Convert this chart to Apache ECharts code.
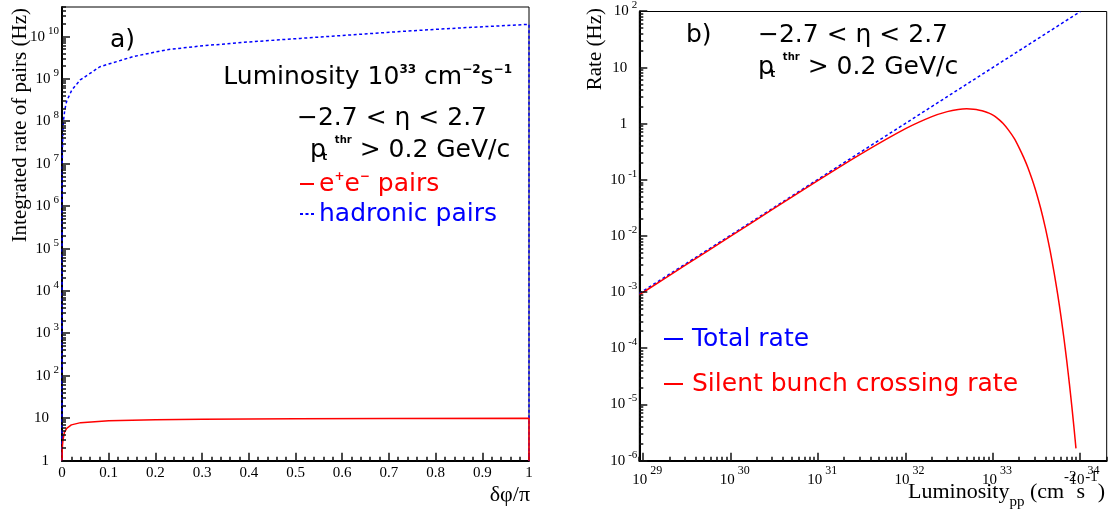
<!DOCTYPE html>
<html>
<head>
<meta charset="utf-8">
<script src="https://cdn.jsdelivr.net/npm/echarts@6.0.0/dist/echarts.min.js"></script>
<style>
html,body{margin:0;padding:0;background:#fff;}
#chart{width:1109px;height:511px;}
</style>
</head>
<body>
<div id="chart"></div>
<script>
// ---------- Panel a) : integrated rate vs delta-phi/pi ----------
const dphiHadronic = [0, 0.0002, 0.0008, 0.002, 0.003, 0.006, 0.010, 0.021, 0.039, 0.081, 0.153, 0.224, 0.295, 0.4, 0.51, 0.62, 0.724, 0.85, 1.0, 1.0];
const rateHadronic = [1, 3e6, 2e7, 6e7, 1e8, 1.9e8, 3.0e8, 5.5e8, 9.5e8, 1.95e9, 3.4e9, 4.9e9, 6.0e9, 7.5e9, 9.1e9, 1.1e10, 1.32e10, 1.6e10, 1.95e10, 1];
const dphiEE = [0, 0.0005, 0.001, 0.002, 0.005, 0.01, 0.02, 0.04, 0.1, 0.2, 0.3, 0.5, 0.7, 1.0, 1.0];
const rateEE = [1, 1.8, 2.3, 3.0, 4.6, 5.8, 7.0, 7.9, 8.7, 9.2, 9.5, 9.75, 9.9, 10, 1];

// ---------- Panel b) : rate vs luminosity ----------
const lumiTotal = [9e28, 1e29, 1e30, 1e31, 1e32, 1e33, 1e34];
const rateTotal = [9.6e-4, 1.06e-3, 1.04e-2, 0.103, 1.02, 10.1, 100];
const lumiSilent = [9e28, 1e29, 3e29, 1e30, 3e30, 1e31, 3e31, 1e32, 2e32, 3e32, 4e32, 5e32, 6e32, 7e32, 8e32, 9e32, 1e33, 1.1e33, 1.2e33, 1.3e33, 1.5e33, 1.75e33, 2e33, 2.25e33, 2.5e33, 3e33, 3.5e33, 4e33, 4.5e33, 5e33, 5.5e33, 6e33, 6.5e33, 7e33, 7.5e33, 8e33, 8.5e33, 8.9e33];
const rateSilent = [9.0e-4, 1.0e-3, 3.0e-3, 9.98e-3, 0.0298, 0.098, 0.2825, 0.819, 1.341, 1.646, 1.797, 1.845, 1.82, 1.75, 1.66, 1.55, 1.43, 1.29, 1.15, 1.02, 0.78, 0.55, 0.37, 0.25, 0.168, 0.0744, 0.0319, 0.01342, 5.55e-3, 2.27e-3, 9.19e-4, 3.69e-4, 1.47e-4, 5.82e-5, 2.29e-5, 9.0e-6, 3.52e-6, 1.66e-6];

// ---------- tick labels ----------
const xTickLabelsA = ['0', '0.1', '0.2', '0.3', '0.4', '0.5', '0.6', '0.7', '0.8', '0.9', '1'];
const yExpA = [0, 1, 2, 3, 4, 5, 6, 7, 8, 9, 10];
const xExpB = [29, 30, 31, 32, 33, 34];
const yExpB = [-6, -5, -4, -3, -2, -1, 0, 1, 2];

const SERIF = '"Liberation Serif", "DejaVu Serif", serif';
const SANS = '"DejaVu Sans", sans-serif';
const RED = '#ff0000';
const BLUE = '#0000ff';
const FS = 25;
const TICK = '#111111';
const TICKW = 1.5;

const p10 = e => Number('1e' + e);
function minorLog(lo, hi) {
  const out = [];
  for (let k = Math.floor(Math.log10(lo)) - 1; k <= Math.ceil(Math.log10(hi)); k++) {
    for (let m = 2; m <= 9; m++) {
      const v = Number(m + 'e' + k);
      if (v >= lo && v <= hi) out.push(v);
    }
  }
  return out;
}

const yMaxA = 5e10, xMinB = 9e28, xMaxB = 2e34, yMinB = 1e-6, yMaxB = 1e2;
const yMajorA = yExpA.map(p10), yMinorA = minorLog(1, yMaxA);
const xMajorB = xExpB.map(p10), xMinorB = minorLog(xMinB, xMaxB);
const yMajorB = yExpB.map(p10), yMinorB = minorLog(yMinB, yMaxB);

function expLabel(v) {
  const e = Math.round(Math.log10(v));
  if (e === 0) return '{p|1}';
  if (e === 1) return '{p|10}';
  return '{b|10}{e|' + e + '}';
}
const richY = {
  b: {fontFamily: SERIF, fontSize: 15, lineHeight: 16, color: '#000'},
  e: {fontFamily: SERIF, fontSize: 11, lineHeight: 11, color: '#000', padding: [0, 0, 12, 3]},
  p: {fontFamily: SERIF, fontSize: 15, lineHeight: 16, color: '#000', padding: [0, 10, 0, 0]}
};
const richX = {
  b: {fontFamily: SERIF, fontSize: 15, lineHeight: 16, color: '#000', padding: [0, 0, 0, 8]},
  e: {fontFamily: SERIF, fontSize: 12, lineHeight: 12, color: '#000', padding: [0, 0, 17, 3]}
};

function axisBase(extra) {
  return Object.assign({
    splitLine: {show: false},
    axisTick: {show: false},
    axisLine: {show: true, onZero: false, lineStyle: {color: '#000', width: 2}},
  }, extra);
}

const xAxis = [
  axisBase({
    type: 'value', gridIndex: 0, min: 0, max: 1, interval: 0.1, position: 'bottom',
    axisTick: {show: true, inside: true, length: 8, lineStyle: {color: TICK, width: TICKW}},
    minorTick: {show: true, splitNumber: 5, length: 4, lineStyle: {color: TICK, width: TICKW}},
    axisLabel: {
      formatter: v => xTickLabelsA[Math.round(v * 10)],
      fontFamily: SERIF, fontSize: 15, color: '#000', margin: 5
    }
  }),
  axisBase({
    type: 'log', gridIndex: 1, min: xMinB, max: xMaxB, position: 'bottom',
    axisLabel: {customValues: xMajorB, formatter: v => '{b|10}{e|' + Math.round(Math.log10(v)) + '}', rich: richX, margin: 11}
  })
];

const yAxis = [
  axisBase({
    type: 'log', gridIndex: 0, min: 1, max: yMaxA, position: 'left',
    axisLabel: {customValues: yMajorA, formatter: expLabel, rich: richY, margin: 3}
  }),
  axisBase({
    type: 'log', gridIndex: 1, min: yMinB, max: yMaxB, position: 'left',
    axisLabel: {customValues: yMajorB, formatter: expLabel, rich: richY, margin: 2}
  })
];

const zip = (xs, ys) => xs.map((x, i) => [x, ys[i]]);

// log-axis tick marks, placed through the axes' own scales
function tickSeries(name, gridIdx, vals, fixed, len, dir) {
  return {
    name: name, type: 'custom', xAxisIndex: gridIdx, yAxisIndex: gridIdx, clip: false, silent: true, z: 5,
    data: vals.map(v => dir === 'x' ? [v, fixed] : [fixed, v]),
    renderItem: (params, api) => {
      const p = api.coord([api.value(0), api.value(1)]);
      if (dir === 'x') {
        const x = Math.round(p[0]);
        return {type: 'line', shape: {x1: x, y1: p[1], x2: x, y2: p[1] - len}, style: {stroke: TICK, lineWidth: TICKW}};
      }
      const y = Math.round(p[1]);
      return {type: 'line', shape: {x1: p[0], y1: y, x2: p[0] + len, y2: y}, style: {stroke: TICK, lineWidth: TICKW}};
    }
  };
}

const series = [
  {name: 'hadronic pairs', type: 'line', xAxisIndex: 0, yAxisIndex: 0, data: zip(dphiHadronic, rateHadronic),
   symbol: 'none', color: BLUE, lineStyle: {color: BLUE, width: 1.5, type: [3, 2.5]}, z: 3},
  {name: 'e+e- pairs', type: 'line', xAxisIndex: 0, yAxisIndex: 0, data: zip(dphiEE, rateEE),
   symbol: 'none', color: RED, lineStyle: {color: RED, width: 1.5}, z: 4},
  {name: 'Total rate', type: 'line', xAxisIndex: 1, yAxisIndex: 1, data: zip(lumiTotal, rateTotal),
   symbol: 'none', color: BLUE, lineStyle: {color: BLUE, width: 1.5, type: [3, 2.5]}, z: 3},
  {name: 'Silent bunch crossing rate', type: 'line', xAxisIndex: 1, yAxisIndex: 1, data: zip(lumiSilent, rateSilent),
   symbol: 'none', smooth: 0.2, color: RED, lineStyle: {color: RED, width: 1.5}, z: 4},
  tickSeries('tA_ymaj', 0, yMajorA, 0, 8, 'y'),
  tickSeries('tA_ymin', 0, yMinorA, 0, 4, 'y'),
  tickSeries('tB_xmaj', 1, xMajorB, yMinB, 8, 'x'),
  tickSeries('tB_xmin', 1, xMinorB, yMinB, 4, 'x'),
  tickSeries('tB_ymaj', 1, yMajorB, xMinB, 8, 'y'),
  tickSeries('tB_ymin', 1, yMinorB, xMinB, 4, 'y')
];

const hiddenSymbol = {color: 'rgba(0,0,0,0)', borderColor: 'rgba(0,0,0,0)', borderWidth: 0};
const legend = [
  {
    orient: 'vertical', left: 294, top: 164, itemGap: 0, itemWidth: 14, itemHeight: 14,
    selectedMode: false, itemStyle: hiddenSymbol,
    textStyle: {fontFamily: SANS, fontSize: FS, lineHeight: 30,
      rich: {s: {fontFamily: SANS, fontSize: 12, fontWeight: 'bold', color: RED, padding: [0, 0, 14, 0]},
             t: {fontFamily: SANS, fontSize: FS, color: RED}}},
    formatter: n => n === 'e+e- pairs' ? '{t|e}{s|+}{t|e}{s|−}{t| pairs}' : n,
    data: [
      {name: 'e+e- pairs', textStyle: {color: RED}},
      {name: 'hadronic pairs', textStyle: {color: BLUE}}
    ]
  },
  {
    orient: 'vertical', left: 658, top: 319, itemGap: 15, itemWidth: 19, itemHeight: 14,
    selectedMode: false, itemStyle: hiddenSymbol,
    textStyle: {fontFamily: SANS, fontSize: FS, lineHeight: 30, padding: [0, 0, 0, 4]},
    data: [
      {name: 'Total rate', textStyle: {color: BLUE}, lineStyle: {type: 'solid'}},
      {name: 'Silent bunch crossing rate', textStyle: {color: RED}}
    ]
  }
];

function txt(x, y, text, style, extra) {
  return Object.assign({
    type: 'text', x: x, y: y, silent: true, z: 10,
    style: Object.assign({text: text, fill: '#000', fontFamily: SANS, fontSize: FS,
      align: 'left', verticalAlign: 'middle'}, style || {})
  }, extra || {});
}
const supRich = {
  s: {fontFamily: SANS, fontSize: 12, fontWeight: 'bold', fill: '#000', padding: [0, 0, 14, 0]},
  n: {fontFamily: SANS, fontSize: FS, fill: '#000'},
  h: {fontFamily: SANS, fontSize: 10, fontWeight: 'bold', fill: '#000', padding: [0, 0, 20, 9]}
};

const graphic = [
  txt(110, 40, 'a)'),
  txt(512, 77, '{n|Luminosity 10}{s|33}{n| cm}{s|−2}{n|s}{s|−1}', {align: 'right', rich: supRich}),
  txt(297, 118, '−2.7 < η < 2.7'),
  txt(310, 150, '{n|p}{h|thr}{n| > 0.2 GeV/c}', {rich: supRich}),
  txt(322, 157, 't', {fontSize: 11, fontWeight: 'bold'}),
  txt(686, 35, 'b)'),
  txt(758, 35, '−2.7 < η < 2.7'),
  txt(758, 67, '{n|p}{h|thr}{n| > 0.2 GeV/c}', {rich: supRich}),
  txt(770, 74, 't', {fontSize: 11, fontWeight: 'bold'}),
  txt(20, 8, 'Integrated rate of pairs (Hz)', {fontFamily: SERIF, fontSize: 21, align: 'right'}, {rotation: Math.PI / 2}),
  txt(595, 8, 'Rate (Hz)', {fontFamily: SERIF, fontSize: 21, align: 'right'}, {rotation: Math.PI / 2}),
  txt(530, 495, 'δφ/π', {fontFamily: SERIF, fontSize: 22, align: 'right'}),
  txt(1105, 492, '{m|Luminosity}{b|pp}{m| (cm}{u|-2}{m|s}{u|-1}{m|)}', {fontFamily: SERIF, fontSize: 22, align: 'right',
    rich: {
      m: {fontFamily: SERIF, fontSize: 22, fill: '#000'},
      b: {fontFamily: SERIF, fontSize: 15, fill: '#000', padding: [20, 0, 0, 0]},
      u: {fontFamily: SERIF, fontSize: 15, fill: '#000', padding: [0, 0, 30, 0]}
    }})
];

const chart = echarts.init(document.getElementById('chart'), null, {renderer: 'canvas'});
chart.setOption({
  backgroundColor: '#fff',
  animation: false,
  grid: [
    {left: 62, top: 7, width: 467, height: 453.7, show: true, borderColor: '#000', borderWidth: 1, containLabel: false},
    {left: 639.3, top: 7.3, width: 467.4, height: 453.4, show: true, borderColor: '#000', borderWidth: 1, containLabel: false}
  ],
  xAxis: xAxis,
  yAxis: yAxis,
  legend: legend,
  series: series,
  graphic: graphic
});
</script>
</body>
</html>
